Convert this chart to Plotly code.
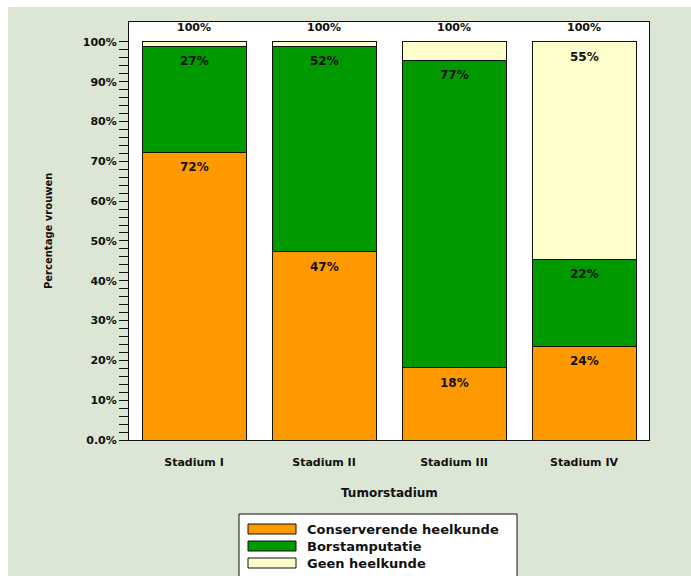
import plotly.graph_objects as go

# Tumour stage categories and percentage of women per treatment
stadia = ["Stadium I", "Stadium II", "Stadium III", "Stadium IV"]
conserverend = [72.3, 47.3, 18.2, 23.6]
amputatie = [26.6, 51.6, 77.2, 21.8]
geen = [1.1, 1.1, 4.6, 54.6]

series_names = ["Conserverende heelkunde", "Borstamputatie", "Geen heelkunde"]
series_colors = ["#FF9900", "#009900", "#FFFFCC"]

y_tickvals = [0, 10, 20, 30, 40, 50, 60, 70, 80, 90, 100]
y_ticktext = ["0.0%", "10%", "20%", "30%", "40%", "50%", "60%", "70%", "80%", "90%", "100%"]

FONT = "DejaVu Sans"
BG = "#DCE6D4"
INK = "#111111"

# page geometry (pixels)
W, H = 691, 576
ML, MR, MT, MB = 129, 42, 22, 136
PW, PH = W - ML - MR, H - MT - MB


def px_x(x):
    return (x - ML) / PW


def px_y(y):
    return (H - MB - y) / PH


fig = go.Figure()
annotations = []
all_series = [conserverend, amputatie, geen]
base = [0.0] * len(stadia)
for name, color, vals in zip(series_names, series_colors, all_series):
    fig.add_trace(go.Bar(
        x=stadia, y=vals, name=name,
        marker=dict(color=color, line=dict(color=INK, width=1)),
        showlegend=False, hoverinfo="x+y+name",
    ))
    # value label just below the top of each segment that is tall enough
    for cat, b, v in zip(stadia, base, vals):
        if v >= 10:
            annotations.append(dict(
                x=cat, y=b + v, xref="x", yref="y", text=f"{v:.0f}%",
                showarrow=False, yanchor="top", yshift=-6,
                font=dict(family=FONT, size=12, color=INK, weight="bold"),
            ))
    base = [b + v for b, v in zip(base, vals)]

# totals above each bar
for cat, tot in zip(stadia, base):
    annotations.append(dict(
        x=cat, y=tot, xref="x", yref="y", text=f"{tot:.0f}%", showarrow=False,
        yanchor="bottom", yshift=6,
        font=dict(family=FONT, size=11, color=INK, weight="bold"),
    ))

# axis titles
annotations.append(dict(
    x=px_x(48), y=0.5, xref="paper", yref="paper", text="Percentage vrouwen",
    textangle=-90, showarrow=False, xanchor="center", yanchor="middle",
    font=dict(family=FONT, size=10, color=INK, weight="bold"),
))
annotations.append(dict(
    x=0.5, y=px_y(493), xref="paper", yref="paper", text="Tumorstadium",
    showarrow=False, xanchor="center", yanchor="middle",
    font=dict(family=FONT, size=12, color=INK, weight="bold"),
))

shapes = [
    # white strips along the top and left page edges
    dict(type="rect", xref="paper", yref="paper", x0=px_x(-5), x1=px_x(W + 5),
         y0=px_y(7), y1=px_y(-5), fillcolor="white", line=dict(width=0), layer="below"),
    dict(type="rect", xref="paper", yref="paper", x0=px_x(-5), x1=px_x(8),
         y0=px_y(H + 5), y1=px_y(-5), fillcolor="white", line=dict(width=0), layer="below"),
    # legend box
    dict(type="rect", xref="paper", yref="paper", x0=px_x(239), x1=px_x(517),
         y0=px_y(H + 10), y1=px_y(514), fillcolor="white",
         line=dict(color=INK, width=1), layer="above"),
]

row_centers = [529, 546, 563]
for name, color, yc in zip(series_names, series_colors, row_centers):
    shapes.append(dict(
        type="rect", xref="paper", yref="paper", x0=px_x(248), x1=px_x(296),
        y0=px_y(yc + 5), y1=px_y(yc - 5), fillcolor=color,
        line=dict(color=INK, width=1), layer="above",
    ))
    annotations.append(dict(
        x=px_x(305), y=px_y(yc), xref="paper", yref="paper", text=name,
        showarrow=False, xanchor="left", yanchor="middle",
        font=dict(family=FONT, size=13, color=INK, weight="bold"),
    ))

fig.update_layout(
    width=W, height=H, barmode="stack", bargap=0.2,
    margin=dict(l=ML, r=MR, t=MT, b=MB, pad=0),
    paper_bgcolor=BG, plot_bgcolor="white",
    annotations=annotations, shapes=shapes,
)
fig.update_xaxes(
    showline=True, mirror=True, linecolor=INK, linewidth=1,
    ticks="outside", ticklen=12, tickcolor="rgba(0,0,0,0)",
    tickfont=dict(family=FONT, size=11, color=INK, weight="bold"),
    showgrid=False, fixedrange=True,
)
fig.update_yaxes(
    range=[0, 105], showline=True, mirror=True, linecolor=INK, linewidth=1,
    tickmode="array", tickvals=y_tickvals, ticktext=y_ticktext,
    ticks="outside", ticklen=9, tickcolor=INK, tickwidth=1,
    minor=dict(tickmode="array", tickvals=list(range(0, 101, 2)), ticks="outside",
               ticklen=9, tickcolor=INK, tickwidth=1, showgrid=False),
    tickfont=dict(family=FONT, size=11, color=INK, weight="bold"),
    showgrid=False, zeroline=False, fixedrange=True,
)

fig.write_html("out.html")
